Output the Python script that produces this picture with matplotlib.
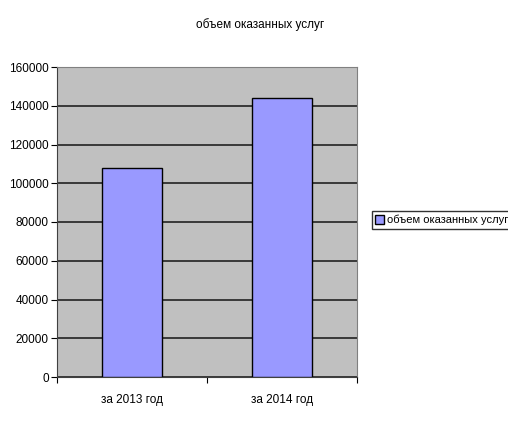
import matplotlib.pyplot as plt

categories = ['за 2013 год', 'за 2014 год']
values = [108000, 144000]
series_name = 'объем оказанных услуг'
title = 'объем оказанных услуг'

plt.rcParams['font.family'] = ['Liberation Sans', 'DejaVu Sans']
plt.rcParams['font.size'] = 8.5

fig = plt.figure(figsize=(5.08, 4.25), dpi=100)
ax = fig.add_axes([57 / 508, 48 / 425, 300 / 508, 310 / 425])
ax.set_facecolor('#c0c0c0')

x = range(len(categories))
ax.bar(x, values, width=0.4, color='#9999ff', edgecolor='black', linewidth=1,
       label=series_name, zorder=3)

ax.set_xlim(-0.5, 1.5)
ax.set_ylim(0, 160000)
ax.set_yticks(range(0, 160001, 20000))
ax.set_xticks([-0.5, 0.5, 1.5], minor=False)
ax.set_xticklabels(['', '', ''])
ax.set_xticks([0, 1], minor=True)
ax.set_xticklabels(categories, minor=True)
ax.tick_params(axis='x', which='minor', length=0, pad=12)
ax.tick_params(axis='x', which='major', length=4, direction='out')
ax.tick_params(axis='y', length=4, direction='out', pad=2)
ax.yaxis.grid(True, color='#222222', linewidth=1.2, zorder=1)
ax.set_axisbelow(True)

for side in ['top', 'right']:
    ax.spines[side].set_color('#808080')
for side in ['left', 'bottom']:
    ax.spines[side].set_color('#404040')

fig.text(260 / 508, 1 - 25 / 425, title, ha='center', va='center', fontsize=8.5)

leg = fig.legend(loc='center left', bbox_to_anchor=(366 / 508, 1 - 220 / 425),
                 frameon=True, fancybox=False, edgecolor='black',
                 handlelength=0.8, handleheight=0.8, handletextpad=0.3,
                 borderpad=0.3, fontsize=8)
leg.get_frame().set_linewidth(1)

plt.savefig('out.png', dpi=100)
